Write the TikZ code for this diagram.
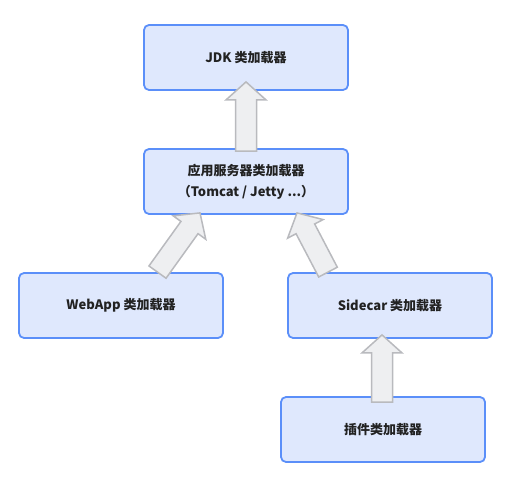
\documentclass[tikz,border=0pt]{standalone}
\usepackage{fontspec}
\setmainfont{Noto Sans CJK SC}
\usetikzlibrary{calc}
\definecolor{boxfill}{HTML}{DFE8FD}
\definecolor{boxline}{HTML}{5B8FF9}
\definecolor{arrfill}{HTML}{EEEFF1}
\definecolor{arrline}{HTML}{B9BABE}
\definecolor{txt}{HTML}{222222}
\tikzset{
  loaderbox/.style={draw=boxline, fill=boxfill, line width=1.8pt, rounded corners=5pt,
    minimum width=204pt, minimum height=65pt, align=center, text=txt,
    font=\fontsize{13}{21}\selectfont\bfseries, inner sep=0pt},
  blockarrow/.style={draw=arrline, fill=arrfill, line width=1.5pt, line join=miter,
    to path={
      let \p1=(\tikztostart), \p2=(\tikztotarget),
          \n1={veclen(\x2-\x1,\y2-\y1)},
          \n2={(\x2-\x1)/\n1}, \n3={(\y2-\y1)/\n1}
      in
      ({\x1-10.5*\n3},{\y1+10.5*\n2})
      -- ({\x1+(\n1-18)*\n2-10.5*\n3},{\y1+(\n1-18)*\n3+10.5*\n2})
      -- ({\x1+(\n1-18)*\n2-20*\n3},{\y1+(\n1-18)*\n3+20*\n2})
      -- (\p2)
      -- ({\x1+(\n1-18)*\n2+20*\n3},{\y1+(\n1-18)*\n3-20*\n2})
      -- ({\x1+(\n1-18)*\n2+10.5*\n3},{\y1+(\n1-18)*\n3-10.5*\n2})
      -- ({\x1+10.5*\n3},{\y1-10.5*\n2})
      -- cycle
    }}
}
\begin{document}
\begin{tikzpicture}[x=1pt,y=1pt]
\useasboundingbox (0,0) rectangle (509,-489);
\node[loaderbox] (jdk) at (246,-57.5) {JDK 类加载器};
\node[loaderbox] (app) at (246,-181.5) {应用服务器类加载器\\（Tomcat / Jetty ...）};
\node[loaderbox] (webapp) at (121,-305.5) {WebApp 类加载器};
\node[loaderbox] (sidecar) at (390,-305.5) {Sidecar 类加载器};
\node[loaderbox] (plugin) at (383,-429.5) {插件类加载器};

\coordinate (a1s) at ($(app.north)+(0,-3)$);
\coordinate (a1e) at ($(jdk.south)+(0,9)$);
\coordinate (a2s) at ($(webapp.north)+(36.5,0)$);
\coordinate (a2e) at ($(app.south)+(-46,2)$);
\coordinate (a3s) at ($(sidecar.north)+(-62,0)$);
\coordinate (a3e) at ($(app.south)+(51,2)$);
\coordinate (a4s) at ($(plugin.north)+(-1,-6)$);
\coordinate (a4e) at ($(sidecar.south)+(-8,4)$);

\draw[blockarrow] (a1s) to (a1e);
\draw[blockarrow] (a2s) to (a2e);
\draw[blockarrow] (a3s) to (a3e);
\draw[blockarrow] (a4s) to (a4e);
\end{tikzpicture}
\end{document}
